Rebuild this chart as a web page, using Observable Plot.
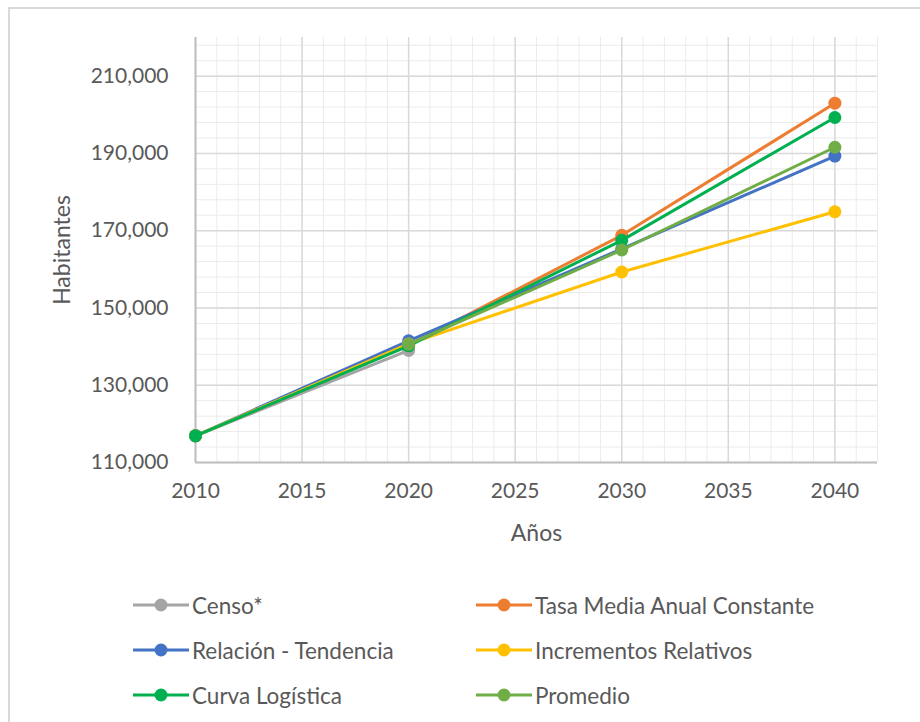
<!DOCTYPE html>
<html>
<head>
<meta charset="utf-8">
<script src="https://cdn.jsdelivr.net/npm/d3@7"></script>
<script src="https://cdn.jsdelivr.net/npm/@observablehq/plot@0.6"></script>
<style>
  html, body { margin: 0; padding: 0; background: #fff; overflow: hidden; }
  #wrap { position: relative; width: 920px; height: 722px; font-family: Lato, "Open Sans", sans-serif; color: #595959; }
  #frame { position: absolute; left: 8px; top: 7px; width: 1000px; height: 800px; border: 2px solid #d9d9d9; box-sizing: border-box; }
  #chart { position: absolute; left: 0; top: 0; }
  .leg { position: absolute; display: flex; align-items: center; font-size: 22.5px; white-space: nowrap; }
  .leg svg { margin-right: 3px; }
  g[aria-label="x-axis label"] text, g[aria-label="y-axis label"] text { font-size: 23px; }
</style>
</head>
<body>
<div id="wrap">
  <div id="frame"></div>
  <div id="chart"></div>
</div>
<script>
// ---- data ----
const years = [2010, 2020, 2030, 2040];
const seriesNames = ["Censo*", "Tasa Media Anual Constante", "Relación - Tendencia", "Incrementos Relativos", "Curva Logística", "Promedio"];
const seriesColors = ["#A5A5A5", "#ED7D31", "#4472C4", "#FFC000", "#00B050", "#70AD47"];
const censo = [116900, 139000, null, null];
const tasaMedia = [116900, 140300, 168800, 203000];
const relacionTendencia = [116900, 141500, 165300, 189300];
const incrementosRelativos = [116900, 140700, 159300, 174900];
const curvaLogistica = [116900, 140200, 167500, 199300];
const promedio = [null, 140600, 165000, 191600];
const seriesValues = [censo, tasaMedia, relacionTendencia, incrementosRelativos, curvaLogistica, promedio];
const xTicks = [2010, 2015, 2020, 2025, 2030, 2035, 2040];
const yTicks = [110000, 130000, 150000, 170000, 190000, 210000];
const xDomain = [2010, 2042];
const yDomain = [110000, 220000];
const xMinorStep = 1;
const yMinorStep = 4000;
const yMajorStep = 20000;

// ---- build ----
const rows = [];
seriesNames.forEach((s, i) => {
  seriesValues[i].forEach((v, j) => { if (v != null) rows.push({serie: s, year: years[j], value: v}); });
});
const minorX = d3.range(xDomain[0], xDomain[1] + 0.001, xMinorStep);
const majorX = xTicks;
const minorY = d3.range(yDomain[0], yDomain[1] + 1, yMinorStep);
const majorY = d3.range(yDomain[0], yDomain[1] + 1, yMajorStep);

const seriesMarks = [];
seriesNames.forEach((s, i) => {
  const d = rows.filter(r => r.serie === s);
  seriesMarks.push(Plot.line(d, {x: "year", y: "value", stroke: seriesColors[i], strokeWidth: 3, strokeLinecap: "round", strokeLinejoin: "round"}));
  seriesMarks.push(Plot.dot(d, {x: "year", y: "value", fill: seriesColors[i], r: 6.5, stroke: "none"}));
});

const chart = Plot.plot({
  width: 920,
  height: 560,
  marginLeft: 195,
  marginRight: 43,
  marginTop: 37,
  marginBottom: 98,
  style: {fontFamily: "Lato, 'Open Sans', sans-serif", fontSize: "21px", color: "#595959", background: "transparent"},
  x: {domain: xDomain},
  y: {domain: yDomain},
  marks: [
    Plot.ruleX(minorX, {stroke: "#ebebeb", strokeWidth: 1}),
    Plot.ruleY(minorY, {stroke: "#ebebeb", strokeWidth: 1}),
    Plot.ruleX(majorX, {stroke: "#d9d9d9", strokeWidth: 1.5}),
    Plot.ruleY(majorY, {stroke: "#d9d9d9", strokeWidth: 1.5}),
    Plot.ruleX([xDomain[0]], {stroke: "#bfbfbf", strokeWidth: 2}),
    Plot.ruleY([yDomain[0]], {stroke: "#bfbfbf", strokeWidth: 2}),
    ...seriesMarks,
    Plot.axisX({ticks: xTicks, tickFormat: d => String(d), tickSize: 0, tickPadding: 21, label: "Años", labelAnchor: "center", labelArrow: "none", labelOffset: 78, fill: "#595959"}),
    Plot.axisY({ticks: yTicks, tickFormat: d3.format(","), tickSize: 0, tickPadding: 27, label: "Habitantes", labelAnchor: "center", labelArrow: "none", labelOffset: 142, fill: "#595959"})
  ]
});
document.getElementById("chart").appendChild(chart);

// ---- legend ----
const legPos = [[133, 605], [476, 605], [133, 650], [476, 650], [133, 695], [476, 695]];
const wrap = document.getElementById("wrap");
seriesNames.forEach((s, i) => {
  const el = document.createElement("div");
  el.className = "leg";
  el.style.left = legPos[i][0] + "px";
  el.style.top = (legPos[i][1] - 15) + "px";
  el.style.height = "30px";
  el.innerHTML = `<svg width="56" height="16"><line x1="0" y1="8" x2="56" y2="8" stroke="${seriesColors[i]}" stroke-width="3"/><circle cx="28" cy="8" r="6.5" fill="${seriesColors[i]}"/></svg><span>${s}</span>`;
  wrap.appendChild(el);
});
</script>
</body>
</html>
